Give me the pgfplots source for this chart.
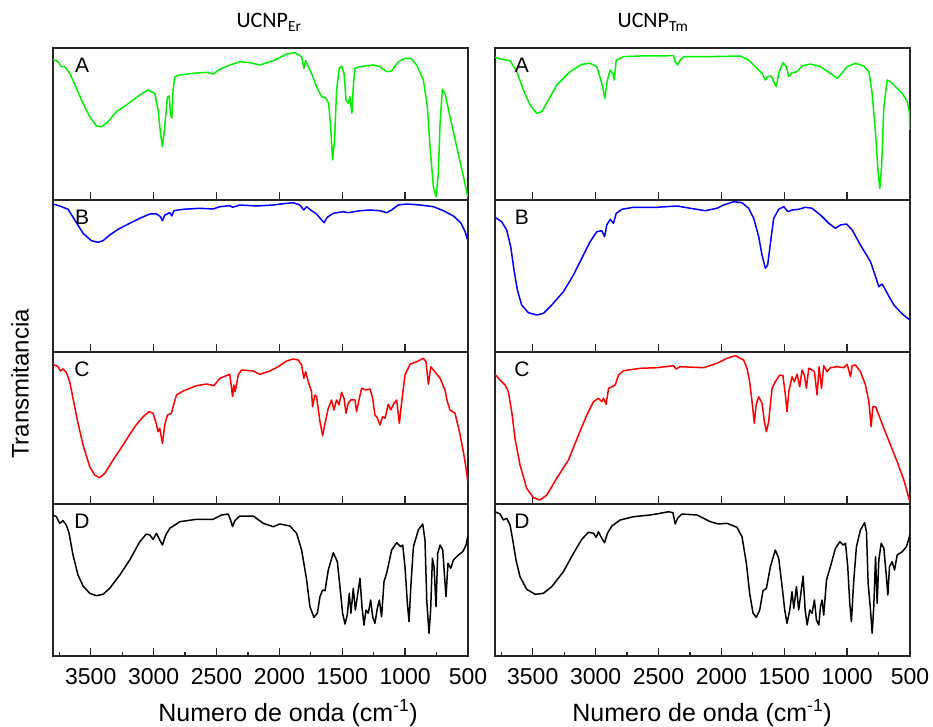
\documentclass[border=0pt]{standalone}
\usepackage{fontspec}
\setmainfont{Liberation Sans}
\newfontfamily\calibri{Carlito}
\usepackage{pgfplots}
\pgfplotsset{compat=1.18}
\definecolor{irgreen}{RGB}{0,240,0}
\definecolor{irblue}{RGB}{0,0,255}
\definecolor{irred}{RGB}{255,0,0}
\tikzset{letter/.style={font=\fontsize{21}{21}\selectfont, anchor=center}}
\pgfplotsset{
  panel/.style={
    scale only axis, width=415pt, height=152pt,
    xmin=500, xmax=3800, ymin=0, ymax=152, x dir=reverse,
    ytick=\empty, xtick={500,1000,...,3500}, xtick pos=bottom,
    tick align=inside, xticklabels={},
    major tick length=8pt, minor tick length=4pt,
    axis line style={line width=1.5pt, black!85},
    every tick/.style={black!85, line width=1.3pt},
    /pgf/number format/1000 sep={},
    /pgf/number format/assume math mode=true,
    ticklabel style={font=\fontsize{23}{23}\selectfont},
    xticklabel style={inner sep=0pt, yshift=-12pt},
    every axis plot/.append style={line width=1.5pt, line join=round, no markers},
  },
}
\begin{document}
\begin{tikzpicture}
\useasboundingbox (0pt,0pt) rectangle (933pt,726pt);
% ---------------- Left column (UCNP Er) ----------------
\begin{axis}[panel, at={(53pt,526pt)}, anchor=south west]
\addplot[irgreen] coordinates {(3800,140.7)(3760,138.3)(3733,133.3)(3707,133.3)(3667,126.7)(3614,111.7)(3561,96.7)(3508,83.3)(3455,74)(3415,73.3)(3362,78.3)(3296,88.3)(3216,95)(3110,105)(3044,110)(2991,106.7)(2964,90)(2945,66.7)(2930,53.3)(2914,70)(2890,103.3)(2876,104)(2866,86.7)(2855,81.7)(2845,110)(2831,123.3)(2792,125)(2685,126.7)(2579,127.7)(2526,126)(2473,130.7)(2394,135)(2314,138.3)(2234,137.3)(2155,135)(2075,138.3)(2022,140.7)(1943,146)(1876,147.3)(1823,143.3)(1805,131.7)(1791,139.3)(1776,135)(1744,126.7)(1704,113.3)(1664,103.3)(1630,101.7)(1608,96.7)(1592,73.3)(1577,40)(1561,60)(1545,110)(1524,131.7)(1505,134)(1486,126.7)(1470,100)(1452,96.7)(1439,103.3)(1423,86.7)(1412,113.3)(1399,131.7)(1359,133.3)(1306,134.3)(1253,135)(1200,133.3)(1147,128.3)(1107,129)(1054,138.3)(1001,141.7)(956,141.7)(908,135)(855,120)(823,93.3)(802,53.3)(775,13.3)(754,3.3)(736,26.7)(722,76.7)(704,110.7)(683,106.7)(643,83.3)(590,53.3)(542,26.7)(502,3.3)};
\node[letter] at (rel axis cs:0.07,0.885) {A};
\end{axis}
\begin{axis}[panel, at={(53pt,374pt)}, anchor=south west]
\addplot[irblue] coordinates {(3800,148)(3747,146)(3680,142.7)(3627,132)(3561,118.7)(3495,111.3)(3442,109.7)(3402,111.3)(3349,117)(3282,122.7)(3190,128.7)(3110,133.7)(3030,138)(2977,138)(2945,135.3)(2930,131.3)(2911,137)(2871,139.3)(2855,136)(2839,141.3)(2765,142.7)(2632,143.7)(2526,143)(2473,145.3)(2394,146.3)(2372,144.7)(2314,147)(2181,146)(2049,147)(1943,148.7)(1890,149.3)(1837,147)(1805,142)(1784,145.3)(1744,141.3)(1704,138)(1664,132)(1645,129.3)(1619,134.7)(1571,138.7)(1492,140.3)(1452,139.3)(1359,141.3)(1279,142)(1200,141.3)(1147,139.3)(1107,142)(1054,147)(988,148)(881,147)(775,145.3)(696,141.3)(616,136)(558,129.3)(523,120.3)(505,112.7)};
\node[letter] at (rel axis cs:0.07,0.885) {B};
\end{axis}
\begin{axis}[panel, at={(53pt,222pt)}, anchor=south west]
\addplot[irred] coordinates {(3800,139.7)(3760,137.3)(3741,133)(3720,135)(3694,131.7)(3667,122.3)(3641,105.7)(3601,80.7)(3561,59)(3508,37.3)(3468,29)(3428,26.3)(3388,30.7)(3322,44)(3243,59)(3150,77.3)(3083,87.3)(3036,92.3)(3004,90.7)(2983,82.3)(2964,72.3)(2951,75.7)(2930,60.7)(2911,79)(2890,89)(2858,90.7)(2845,97.3)(2818,109)(2765,113)(2659,118.3)(2579,120)(2521,118.3)(2473,125.7)(2394,129.7)(2372,107.3)(2362,119)(2351,112.3)(2327,129)(2301,134)(2208,133)(2155,129.7)(2075,133)(2009,137.3)(1943,143)(1890,145)(1850,144)(1823,139)(1805,125.7)(1791,132.3)(1770,122.3)(1744,112.3)(1736,97.3)(1717,109)(1704,107.3)(1677,82.3)(1656,68.3)(1637,80.7)(1611,95.7)(1585,104)(1566,94)(1545,104)(1526,99)(1505,111.7)(1486,105.7)(1470,90.7)(1452,100.7)(1433,104)(1399,104)(1386,92.3)(1364,105.7)(1346,115.7)(1311,114)(1279,115)(1258,105.7)(1240,89)(1221,86.3)(1200,79)(1179,87.3)(1160,85.7)(1134,99.7)(1115,94)(1088,100.7)(1067,104)(1046,80.7)(1027,102.3)(1001,129)(961,139.7)(908,142.3)(881,144)(855,145.7)(834,142.3)(815,119.7)(796,137.3)(775,134)(722,125.7)(683,114)(664,102.3)(643,94)(603,90.7)(568,72.3)(537,52.3)(515,35.7)(502,22.3)};
\node[letter] at (rel axis cs:0.07,0.885) {C};
\end{axis}
\begin{axis}[panel, at={(53pt,70pt)}, anchor=south west,
  xticklabels={500,1000,1500,2000,2500,3000,3500},
  minor xtick={750,1250,...,3750}]
\addplot[black] coordinates {(3800,141)(3773,139.3)(3747,132.7)(3720,135.3)(3694,131)(3672,122.7)(3641,101)(3601,81)(3561,70)(3508,62.7)(3455,60.3)(3402,61.7)(3349,67.7)(3269,81)(3190,96)(3110,114.3)(3057,122)(3030,121)(3004,116.7)(2977,122.7)(2951,116)(2930,111)(2903,121)(2871,127.7)(2792,134.3)(2659,136.7)(2526,136.7)(2460,141)(2407,142)(2388,136)(2372,129.3)(2354,135.3)(2314,140)(2208,140)(2128,132.7)(2049,129.3)(1996,132)(1916,130)(1863,122.7)(1823,106)(1783,76)(1757,49.3)(1725,38.7)(1698,42.7)(1677,59.3)(1656,66)(1637,65.3)(1611,86)(1571,103.3)(1539,94.3)(1518,69.3)(1497,42.7)(1478,32)(1460,41)(1444,62.7)(1431,42.7)(1412,67.7)(1396,46)(1380,59.3)(1359,77.7)(1343,49.3)(1327,31)(1311,46)(1293,42.7)(1274,56)(1258,39.3)(1240,32.7)(1221,47.7)(1205,56)(1187,39.3)(1168,74.3)(1147,82.7)(1107,106)(1067,113.3)(1035,109.3)(1019,111)(1001,89.3)(982,52.7)(969,34.3)(953,72.7)(934,109.3)(895,126)(860,132)(842,116)(828,56)(810,22.7)(797,46)(783,97.7)(770,89.3)(754,49.3)(741,102.7)(722,111)(701,106)(688,82.7)(675,59.3)(659,92.7)(637,87.7)(616,96)(576,101)(542,104.3)(515,111)(502,119.3)};
\node[letter] at (rel axis cs:0.07,0.885) {D};
\end{axis}
% ---------------- Right column (UCNP Tm) ----------------
\begin{axis}[panel, at={(495pt,526pt)}, anchor=south west]
\addplot[irgreen] coordinates {(3800,142.7)(3747,140.7)(3680,139.3)(3627,128.3)(3574,110)(3521,95)(3468,86.7)(3428,88.3)(3375,100)(3309,115)(3203,128.3)(3110,135.7)(3044,136.7)(2990,133.3)(2951,116.7)(2927,101.7)(2906,120)(2884,130)(2863,126.7)(2852,120)(2836,140)(2778,143.3)(2645,144)(2380,144.3)(2367,138.3)(2348,135)(2327,140)(2300,143.3)(2115,143.3)(1849,144)(1783,140)(1730,133.3)(1677,126.7)(1650,120)(1632,123.3)(1602,124)(1584,118.3)(1563,113.3)(1544,126.7)(1510,137.3)(1483,133.3)(1464,123.3)(1438,127.3)(1398,128.3)(1358,134)(1292,136)(1212,133.3)(1133,126.7)(1080,121.7)(1053,125)(1000,133.3)(934,136.7)(867,134)(827,128.3)(801,106.7)(774,66.7)(753,26.7)(740,11.7)(726,33.3)(708,93.3)(681,120)(655,118.3)(615,113.3)(562,106.7)(522,98.3)(505,88)(500,70)};
\node[letter] at (rel axis cs:0.065,0.885) {A};
\end{axis}
\begin{axis}[panel, at={(495pt,374pt)}, anchor=south west]
\addplot[irblue] coordinates {(3800,134.7)(3747,130.3)(3707,122)(3675,105.3)(3649,82)(3622,62)(3588,47)(3535,39.3)(3468,37)(3415,38.7)(3349,47)(3256,60.3)(3176,77)(3097,97)(3044,110.3)(2990,120.3)(2951,121.3)(2929,115.3)(2911,127)(2884,132.7)(2858,128.7)(2836,138.7)(2791,142.7)(2699,144.7)(2513,144.7)(2353,146)(2247,143.7)(2128,141.3)(2035,143.7)(1982,147)(1902,150.3)(1836,149.3)(1783,143.7)(1743,133.7)(1703,115.3)(1677,97)(1650,83.7)(1632,87)(1610,108.7)(1584,133.7)(1544,142.7)(1504,145.3)(1470,140.3)(1438,142)(1385,142.7)(1332,144.7)(1279,143.7)(1212,137)(1146,128.7)(1093,123.7)(1053,127)(1005,128)(960,122)(894,107)(814,90.3)(774,75.3)(748,65.3)(721,68)(681,58.7)(628,47)(562,38)(501,32)};
\node[letter] at (rel axis cs:0.065,0.885) {B};
\end{axis}
\begin{axis}[panel, at={(495pt,222pt)}, anchor=south west]
\addplot[irred] coordinates {(3800,129.7)(3760,124)(3720,119)(3694,112.3)(3667,92.3)(3641,65.7)(3601,39)(3548,15.7)(3495,6.3)(3442,4)(3388,9)(3309,25.7)(3216,44)(3136,69)(3070,89)(3017,102.3)(2977,105.7)(2951,102.3)(2937,105.7)(2916,99.7)(2897,115.7)(2871,117.3)(2844,119)(2818,129)(2778,133.3)(2645,135.7)(2513,136.3)(2380,138.3)(2361,135)(2327,137.3)(2141,136.3)(2035,140.7)(1955,145.7)(1889,148.3)(1823,144)(1796,135.7)(1775,122.3)(1756,102.3)(1738,80.7)(1724,99)(1703,107.3)(1677,100.7)(1658,82.3)(1642,72.3)(1624,82.3)(1597,115.7)(1571,122.3)(1536,129)(1510,128.3)(1491,109)(1478,92.3)(1464,112.3)(1438,127.3)(1419,122.3)(1398,129.7)(1377,117.3)(1358,134)(1340,129)(1324,115.7)(1305,135.7)(1279,134)(1260,132.3)(1239,109)(1223,137.3)(1204,115.7)(1186,138.3)(1159,132.3)(1133,136.3)(1080,137.3)(1026,136.3)(1000,139.7)(973,127.3)(960,138.3)(934,139)(894,132.3)(854,119)(827,102.3)(809,77.3)(795,97.3)(774,97.3)(748,89)(708,75.7)(655,59)(602,42.3)(549,24)(501,2.3)};
\node[letter] at (rel axis cs:0.065,0.885) {C};
\end{axis}
\begin{axis}[panel, at={(495pt,70pt)}, anchor=south west,
  xticklabels={500,1000,1500,2000,2500,3000,3500},
  minor xtick={750,1250,...,3750}]
\addplot[black] coordinates {(3800,144.3)(3760,142)(3734,136)(3707,137.7)(3680,131)(3659,116)(3633,96)(3601,79.3)(3548,66.7)(3481,61.7)(3415,62.7)(3349,69.3)(3256,84.3)(3176,102.7)(3110,116.7)(3057,123.7)(3017,122.7)(2996,118.7)(2977,124.3)(2951,117.7)(2929,113.3)(2906,122.7)(2871,130)(2805,136)(2699,139.3)(2566,141)(2486,142.7)(2420,144.3)(2385,143.3)(2367,132)(2348,137.7)(2314,142)(2194,141)(2088,134.3)(2022,132)(1955,132.7)(1876,128.7)(1836,119.3)(1801,92.7)(1775,62.7)(1748,42.7)(1722,38.7)(1695,46)(1669,65.3)(1642,67.7)(1610,89.3)(1571,106)(1544,97.7)(1517,69.3)(1496,46)(1478,32.7)(1456,46)(1438,64.3)(1424,47.7)(1403,69.3)(1385,46)(1366,64.3)(1350,80)(1334,46)(1318,31)(1297,46)(1279,42.7)(1260,56)(1244,36)(1225,31)(1212,49.3)(1199,56)(1186,41)(1164,76)(1133,89.3)(1093,107.7)(1058,114.3)(1032,111)(1013,112.7)(995,89.3)(979,52.7)(966,34.3)(947,76)(926,109.3)(894,126)(862,133.3)(846,124.3)(833,72.7)(814,46)(801,22.7)(788,49.3)(774,99.3)(761,52.7)(748,96)(729,112.7)(708,107.7)(690,82.7)(676,61)(663,89.3)(642,94.3)(623,86)(602,101)(562,104.3)(528,109.3)(501,121)};
\node[letter] at (rel axis cs:0.065,0.885) {D};
\end{axis}
% ---------------- Labels and titles ----------------
\node[anchor=base, font=\calibri\fontsize{22}{22}\selectfont] at (269pt,698pt) {UCNP\textsubscript{Er}};
\node[anchor=base, font=\calibri\fontsize{22}{22}\selectfont] at (653pt,698pt) {UCNP\textsubscript{Tm}};
\node[anchor=base, font=\fontsize{25}{25}\selectfont] at (288pt,5pt) {Numero de onda (cm\textsuperscript{-1})};
\node[anchor=base, font=\fontsize{25}{25}\selectfont] at (702pt,5pt) {Numero de onda (cm\textsuperscript{-1})};
\node[rotate=90, font=\fontsize{24}{24}\selectfont] at (20pt,342pt) {Transmitancia};
\end{tikzpicture}
\end{document}
